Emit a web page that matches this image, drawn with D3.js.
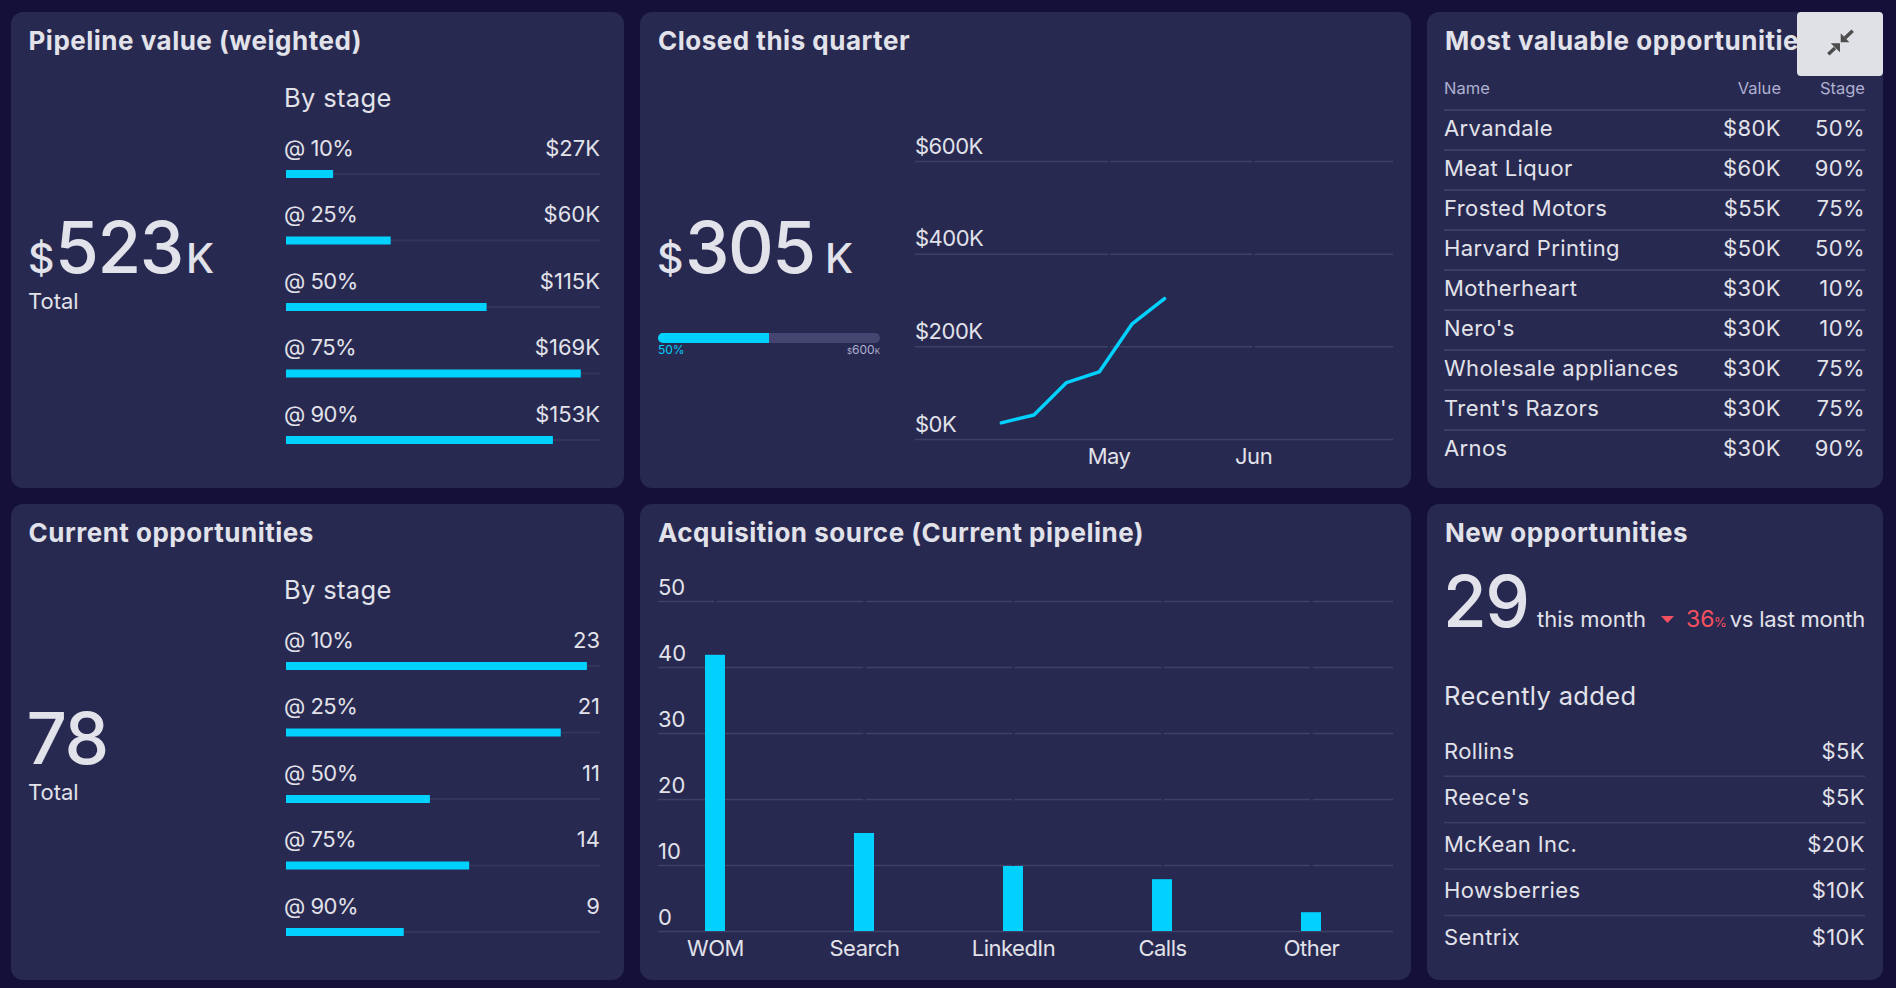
<!DOCTYPE html>
<html><head><meta charset="utf-8">
<script src="https://cdn.jsdelivr.net/npm/d3@7"></script>
<style>
html,body{margin:0;padding:0;background:#14103a;overflow:hidden}
svg{display:block}
text{font-family:Inter,"Noto Sans",sans-serif;fill:#e1e2ea}
.title{font-size:26px;font-weight:700;letter-spacing:.5px}
.sub{font-size:25.5px;font-weight:400;letter-spacing:.35px}
.row{font-size:22px;font-weight:400}
.name{font-size:22px;font-weight:400;letter-spacing:.4px}
.lab{font-size:22px;font-weight:400;letter-spacing:-.5px}
.big{font-size:71px;font-weight:500;letter-spacing:-1.5px}
.unit{font-size:41px;font-weight:500}
.head{font-size:16.5px;fill:#aeb0d0}
</style></head><body>
<svg id="c" width="1896" height="988"></svg>
<script>
// ---- data ----
const stageLabels = ["@ 10%","@ 25%","@ 50%","@ 75%","@ 90%"];
const pipelineValues = [27,60,115,169,153];
const opportunityCounts = [23,21,11,14,9];
const closedDates = ["2021-04-08","2021-04-15","2021-04-22","2021-04-29","2021-05-06","2021-05-13"];
const closedValues = [37,54,124,147,250,305];
const closedTicks = [0,200,400,600];
const monthTicks = ["2021-05-01","2021-06-01"];
const sourceNames = ["WOM","Search","LinkedIn","Calls","Other"];
const sourceValues = [42,15,10,8,3];
const sourceTicks = [0,10,20,30,40,50];
const topNames = ["Arvandale","Meat Liquor","Frosted Motors","Harvard Printing","Motherheart","Nero's","Wholesale appliances","Trent's Razors","Arnos"];
const topValues = [80,60,55,50,30,30,30,30,30];
const topStages = [50,90,75,50,10,10,75,75,90];
const recentNames = ["Rollins","Reece's","McKean Inc.","Howsberries","Sentrix"];
const recentValues = [5,5,20,10,10];

const CARD="#282950",CYAN="#00d1ff",GRID="#3f4066",TRACK="#33345a",RED="#f5505f";
const svg=d3.select("#c");

// ---- cards ----
const cards=[[11,12,613,476],[640,12,771,476],[1427,12,456,476],[11,504,613,476],[640,504,771,476],[1427,504,456,476]];
svg.selectAll("rect.card").data(cards).join("rect").attr("class","card")
  .attr("x",d=>d[0]).attr("y",d=>d[1]).attr("width",d=>d[2]).attr("height",d=>d[3]).attr("rx",12).attr("fill",CARD);

function txt(x,y,s,cls,anchor,extra){
  const t=svg.append("text").attr("x",x).attr("y",y).attr("class",cls||"row").attr("text-anchor",anchor||"start").text(s);
  if(extra)for(const k in extra)t.style(k,extra[k]);
  return t;
}
txt(28.5,50,"Pipeline value (weighted)","title");
txt(658,50,"Closed this quarter","title");
txt(1445,50,"Most valuable opportunities","title");
txt(28.5,542,"Current opportunities","title");
txt(658,542,"Acquisition source (Current pipeline)","title");
txt(1445,542,"New opportunities","title");

// ---- big numbers ----
function money(xD,xN,xK,y,n){
  txt(xD,y,"$","unit");
  txt(xN,y,n,"big");
  txt(xK,y,"K","unit");
}
money(28,55,186,273,"523");
txt(28,309,"Total","row");
txt(26.5,764,"78","big");
txt(28,800,"Total","row");
money(657,685,825,273,"305");

// ---- stage bars ----
function stagePanel(offset,values,domainMax,fmt){
  txt(284,107+offset,"By stage","sub");
  const x=d3.scaleLinear().domain([0,domainMax]).range([286,600]);
  const y=d3.scalePoint().domain(stageLabels).range([174+offset,440+offset]);
  const g=svg.append("g");
  g.selectAll("rect.track").data(stageLabels).join("rect").attr("x",286).attr("width",314)
    .attr("y",d=>y(d)-1).attr("height",2).attr("fill",TRACK);
  g.selectAll("rect.bar").data(values).join("rect").attr("x",x(0)).attr("width",d=>x(d)-x(0))
    .attr("y",(d,i)=>y(stageLabels[i])-4).attr("height",8).attr("fill",CYAN);
  stageLabels.forEach((s,i)=>{
    txt(284,Math.floor(y(s)-18),s,"lab");
    txt(600,Math.floor(y(s)-18),fmt(values[i]),"row","end");
  });
}
stagePanel(0,pipelineValues,180,v=>`$${v}K`);
stagePanel(492,opportunityCounts,24,v=>`${v}`);

// ---- progress ----
const prog=d3.scaleLinear().domain([0,600]).range([658,880]);
svg.append("rect").attr("x",658).attr("y",333).attr("width",222).attr("height",10).attr("rx",5).attr("fill","#444570");
svg.append("path").attr("fill",CYAN).attr("d",()=>{
  const e=prog(300);return `M${e},333H663a5,5 0 0 0 0,10H${e}Z`;
});
txt(658,354,"50%","row","start",{"font-size":"12px","fill":CYAN});
const p=txt(880,354,"","row","end",{"font-size":"12px","fill":"#aeb0d0"});
p.append("tspan").style("font-size","8px").text("$");
p.append("tspan").text("600");
p.append("tspan").style("font-size","8px").text("K");

// ---- line chart ----
const parse=d3.utcParse("%Y-%m-%d");
const lx=d3.scaleUtc().domain([new Date(Date.UTC(2021,2,20,12)),new Date(Date.UTC(2021,6,1))]).range([915,1393]);
const ly=d3.scaleLinear().domain([0,600]).range([439,161]);
const lg=svg.append("g");
const ay=lg.append("g").attr("transform","translate(915,0)")
  .call(d3.axisLeft(ly).tickValues(closedTicks).tickSize(-478).tickFormat(d=>`$${d}K`));
ay.select(".domain").remove();
ay.selectAll("line").attr("stroke",GRID).attr("stroke-width",1.5);
ay.selectAll("text").attr("x",0).attr("y",-8).attr("dy",0).attr("text-anchor","start").attr("class","lab");
const ax=lg.append("g").attr("transform","translate(0,439)")
  .call(d3.axisBottom(lx).tickValues(monthTicks.map(parse)).tickSize(-280).tickFormat(d3.utcFormat("%b")));
ax.select(".domain").remove();
ax.selectAll("line").attr("stroke",CARD).attr("stroke-width",2.5);
ax.selectAll("text").attr("y",25).attr("dy",0).attr("class","lab");
lg.append("path").datum(closedValues).attr("fill","none").attr("stroke",CYAN).attr("stroke-width",3.5)
  .attr("stroke-linecap","round").attr("stroke-linejoin","round")
  .attr("d",d3.line().x((d,i)=>lx(parse(closedDates[i]))).y(d=>ly(d)+1));

// ---- bar chart ----
const bx=d3.scalePoint().domain(sourceNames).range([715,1311]);
const by=d3.scaleLinear().domain([0,50]).range([931,601]);
const bg=svg.append("g");
const bay=bg.append("g").attr("transform","translate(658,0)")
  .call(d3.axisLeft(by).tickValues(sourceTicks).tickSize(-735).tickFormat(d=>d));
bay.select(".domain").remove();
bay.selectAll("line").attr("stroke",GRID).attr("stroke-width",1.5);
bay.selectAll("text").attr("x",0).attr("y",-7).attr("dy",0).attr("text-anchor","start").attr("class","row");
const bax=bg.append("g").attr("transform","translate(0,931)")
  .call(d3.axisBottom(bx).tickSize(-332));
bax.select(".domain").remove();
bax.selectAll("line").attr("stroke",CARD).attr("stroke-width",2.5);
bax.selectAll("text").attr("y",25).attr("dy",0).attr("class","lab");
bg.selectAll("rect.b").data(sourceValues).join("rect").attr("class","b")
  .attr("x",(d,i)=>bx(sourceNames[i])-10).attr("width",20)
  .attr("y",d=>by(d)+1).attr("height",d=>by(0)-by(d)-1).attr("fill",CYAN);

// ---- table ----
txt(1444,94,"Name","head");
txt(1781,94,"Value","head","end");
txt(1865,94,"Stage","head","end");
const ty=d3.scaleLinear().domain([0,1]).range([135.7,175.7]);
topNames.forEach((n,i)=>{
  svg.append("rect").attr("x",1444).attr("width",421).attr("y",ty(i)-26.7).attr("height",2).attr("fill","#3d3e65");
  txt(1444,ty(i),n,"name");
  txt(1781,ty(i),`$${topValues[i]}K`,"name","end");
  txt(1865,ty(i),`${topStages[i]}%`,"name","end");
});

// ---- new opportunities ----
txt(1443,627,"29","big");
txt(1537,627,"this month","row");
svg.append("path").attr("d","M1661,616H1674L1667.5,623Z").attr("fill",RED);
txt(1686,627,"36","row","start",{"fill":RED,"font-size":"23px"});
txt(1714,627,"%","row","start",{"fill":RED,"font-size":"13px"});
txt(1865,627,"vs last month","row","end",{"letter-spacing":"-.25px"});
txt(1444,705,"Recently added","sub");
const ry=d3.scaleLinear().domain([0,4]).range([759,944.7]);
recentNames.forEach((n,i)=>{
  if(i<4)svg.append("rect").attr("x",1444).attr("width",421).attr("y",ry(i)+16.5).attr("height",1.5).attr("fill","#3d3e65");
  txt(1444,ry(i),n,"name");
  txt(1865,ry(i),`$${recentValues[i]}K`,"name","end");
});

// ---- expand button ----
const btn=svg.append("g");
btn.append("rect").attr("x",1797).attr("y",12).attr("width",86).attr("height",64).attr("rx",4).attr("fill","#e0e1e6");
btn.append("path").attr("fill","#4c4c4c").attr("d","M1840.7,42.3V33.3L1849.3,42.3ZM1840,43.3H1830.7L1840,52.3Z");
btn.append("path").attr("stroke","#4c4c4c").attr("stroke-width",3.5).attr("fill","none").attr("d","M1845,38L1852.7,30.7M1835,48L1828.3,54.3");
</script></body></html>
